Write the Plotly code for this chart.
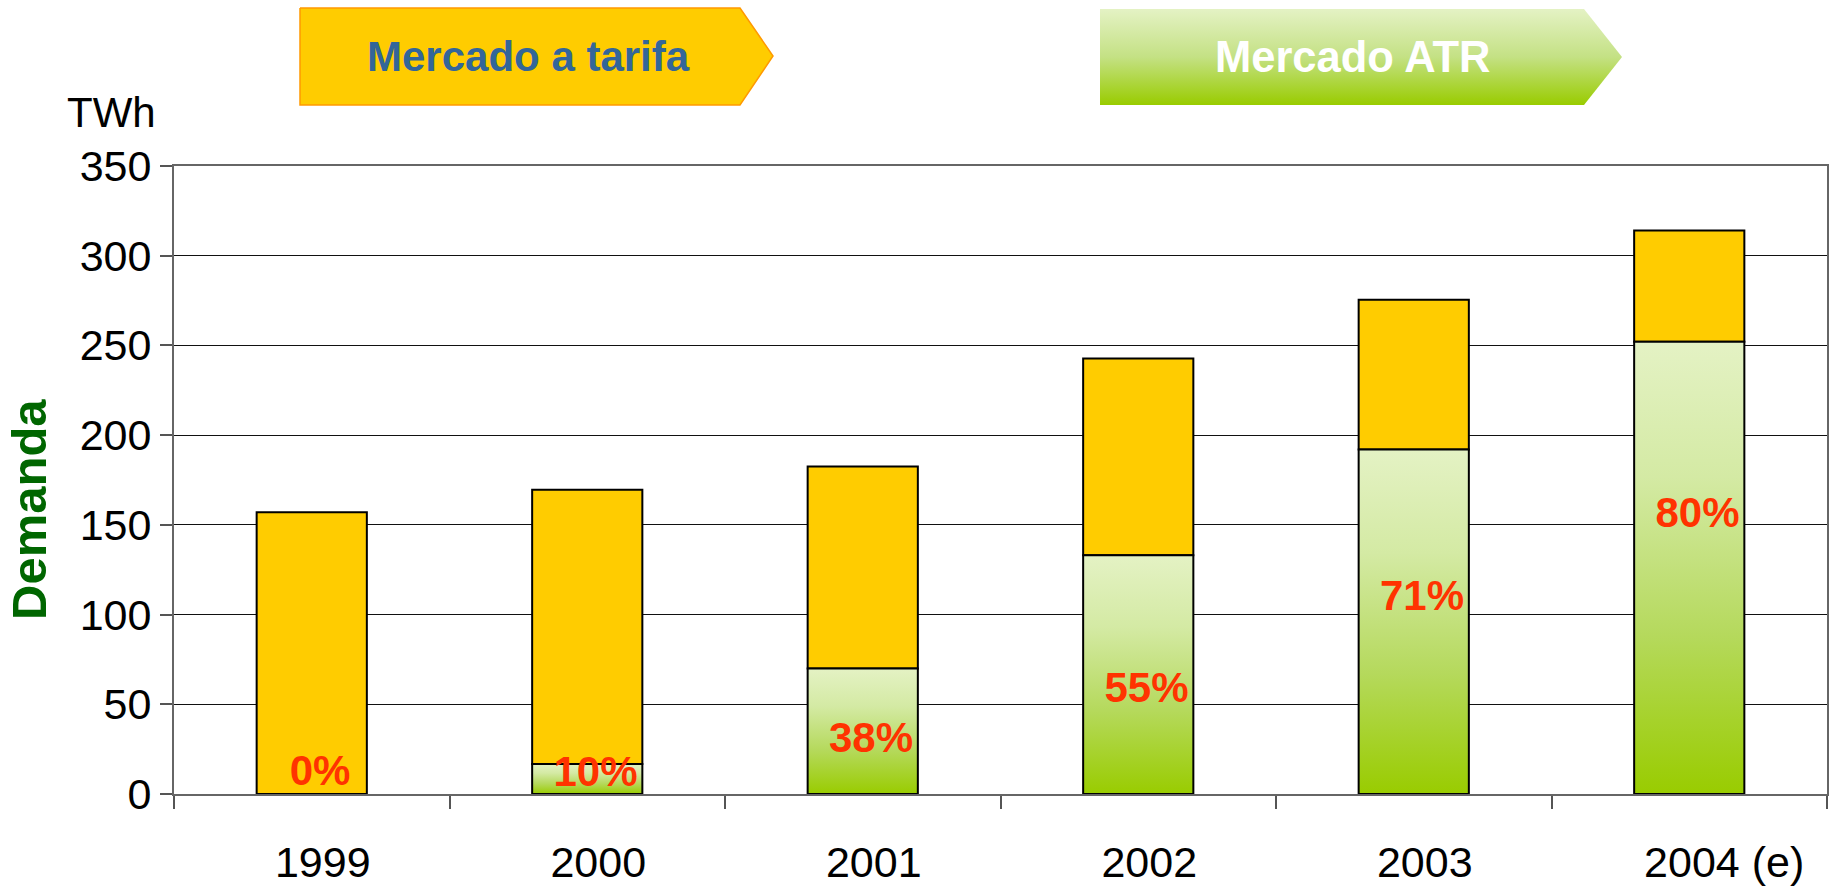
import plotly.graph_objects as go

# demanda electrica (TWh) por año y parte en mercado ATR
years = ["1999", "2000", "2001", "2002", "2003", "2004 (e)"]
total = [157, 169.5, 182.5, 242.7, 275.5, 314]
atr = [0, 16.7, 70, 133, 192, 252]
pct_labels = ["0%", "10%", "38%", "55%", "71%", "80%"]
label_y = [11, 10.3, 29.5, 57, 108.2, 154.5]

W, H = 1829, 888
FONT = "Liberation Sans, Arial, sans-serif"
YELLOW = "#FFCC00"
GREEN_SCALE = [[0, "#99CC00"], [0.35, "#B5D95C"], [0.7, "#D4EAA4"], [1, "#E4F2C4"]]
BAR_W = 0.4

idx = list(range(len(years)))
tarifa = [t - a for t, a in zip(total, atr)]

fig = go.Figure()

# parte a tarifa (amarillo), apilada sobre la parte ATR
fig.add_trace(go.Bar(
    x=idx, y=tarifa, base=atr, width=BAR_W,
    marker=dict(color=YELLOW, line=dict(color="black", width=2)),
    hoverinfo="skip", showlegend=False,
))

# parte ATR con degradado verde (bar no admite degradado -> scatter relleno)
for i, a in zip(idx, atr):
    if a <= 0:
        continue
    x0, x1 = i - BAR_W / 2, i + BAR_W / 2
    fig.add_trace(go.Scatter(
        x=[x0, x1, x1, x0, x0], y=[0, 0, a, a, 0],
        mode="lines", fill="toself",
        fillgradient=dict(type="vertical", colorscale=GREEN_SCALE),
        line=dict(color="black", width=2),
        hoverinfo="skip", showlegend=False,
    ))

# porcentajes
fig.add_trace(go.Scatter(
    x=[i + 0.03 for i in idx], y=label_y, text=pct_labels, mode="text",
    textfont=dict(family=FONT, size=42, color="#FF3300", weight="bold"),
    hoverinfo="skip", showlegend=False,
))

# flechas de cabecera, en un subplot a escala de pixeles
def px_poly(pts):
    return [p[0] for p in pts], [H - p[1] for p in pts]

bx, by = px_poly([(300, 8), (740, 8), (773, 56), (740, 105), (300, 105), (300, 8)])
fig.add_trace(go.Scatter(
    x=bx, y=by, xaxis="x2", yaxis="y2", mode="lines", fill="toself",
    fillcolor=YELLOW, line=dict(color="#FF9900", width=1.5),
    hoverinfo="skip", showlegend=False,
))
bx, by = px_poly([(1100, 9), (1584, 9), (1622, 57), (1584, 105), (1100, 105), (1100, 9)])
fig.add_trace(go.Scatter(
    x=bx, y=by, xaxis="x2", yaxis="y2", mode="lines", fill="toself",
    fillgradient=dict(type="vertical", colorscale=[[0, "#99CC00"], [0.5, "#C4E184"], [1, "#E4F2C4"]]),
    line=dict(width=0),
    hoverinfo="skip", showlegend=False,
))


def note(text, x, y, **kw):
    # anotacion centrada, coordenadas en pixeles de la figura
    return dict(text=text, x=x / W, y=1 - y / H, xref="paper", yref="paper",
                xanchor="center", yanchor="middle", showarrow=False, **kw)


fig.update_layout(
    width=W, height=H,
    margin=dict(l=0, r=0, t=0, b=0, autoexpand=False),
    paper_bgcolor="white",
    plot_bgcolor="rgba(0,0,0,0)",
    hovermode=False,
    font=dict(family=FONT, color="black"),
    xaxis=dict(
        domain=[174 / W, 1827 / W],
        range=[-0.5, len(years) - 0.5],
        tickvals=idx,
        ticktext=years[:-1] + ["\u00a0\u00a0\u00a0\u00a0" + years[-1]],
        ticks="", ticklabelshift=11, ticklabelstandoff=29,
        tickfont=dict(size=43),
        showgrid=False, zeroline=False, automargin=False,
        showline=True, linecolor="#666", linewidth=2, mirror=True,
        minor=dict(tick0=-0.5, dtick=1, ticks="outside", ticklen=13,
                   tickcolor="#555", tickwidth=2, showgrid=False),
    ),
    yaxis=dict(
        domain=[(H - 794) / H, (H - 166) / H],
        range=[0, 350], dtick=50,
        ticks="outside", ticklen=12, tickcolor="#555", tickwidth=1.5,
        ticklabelstandoff=0,
        tickfont=dict(size=43),
        showgrid=True, gridcolor="#111", gridwidth=1.2,
        zeroline=False, automargin=False,
        showline=True, linecolor="#666", linewidth=2, mirror=True,
    ),
    xaxis2=dict(domain=[0, 1], range=[0, W], visible=False, anchor="y2",
                fixedrange=True, automargin=False),
    yaxis2=dict(domain=[0, 1], range=[0, H], visible=False, anchor="x2",
                fixedrange=True, automargin=False),
    annotations=[
        note("<b>Mercado a tarifa</b>", 528, 57, font=dict(size=42, color="#336699")),
        note("<b>Mercado ATR</b>", 1353, 57, font=dict(size=43.5, color="white")),
        note("TWh", 111, 113, font=dict(size=42)),
        note("<b>Demanda</b>", 29, 510, textangle=-90, font=dict(size=49, color="#006600")),
    ],
)

fig.write_html("out.html", config={"displayModeBar": False},
               post_script="document.body.style.margin='0';")
